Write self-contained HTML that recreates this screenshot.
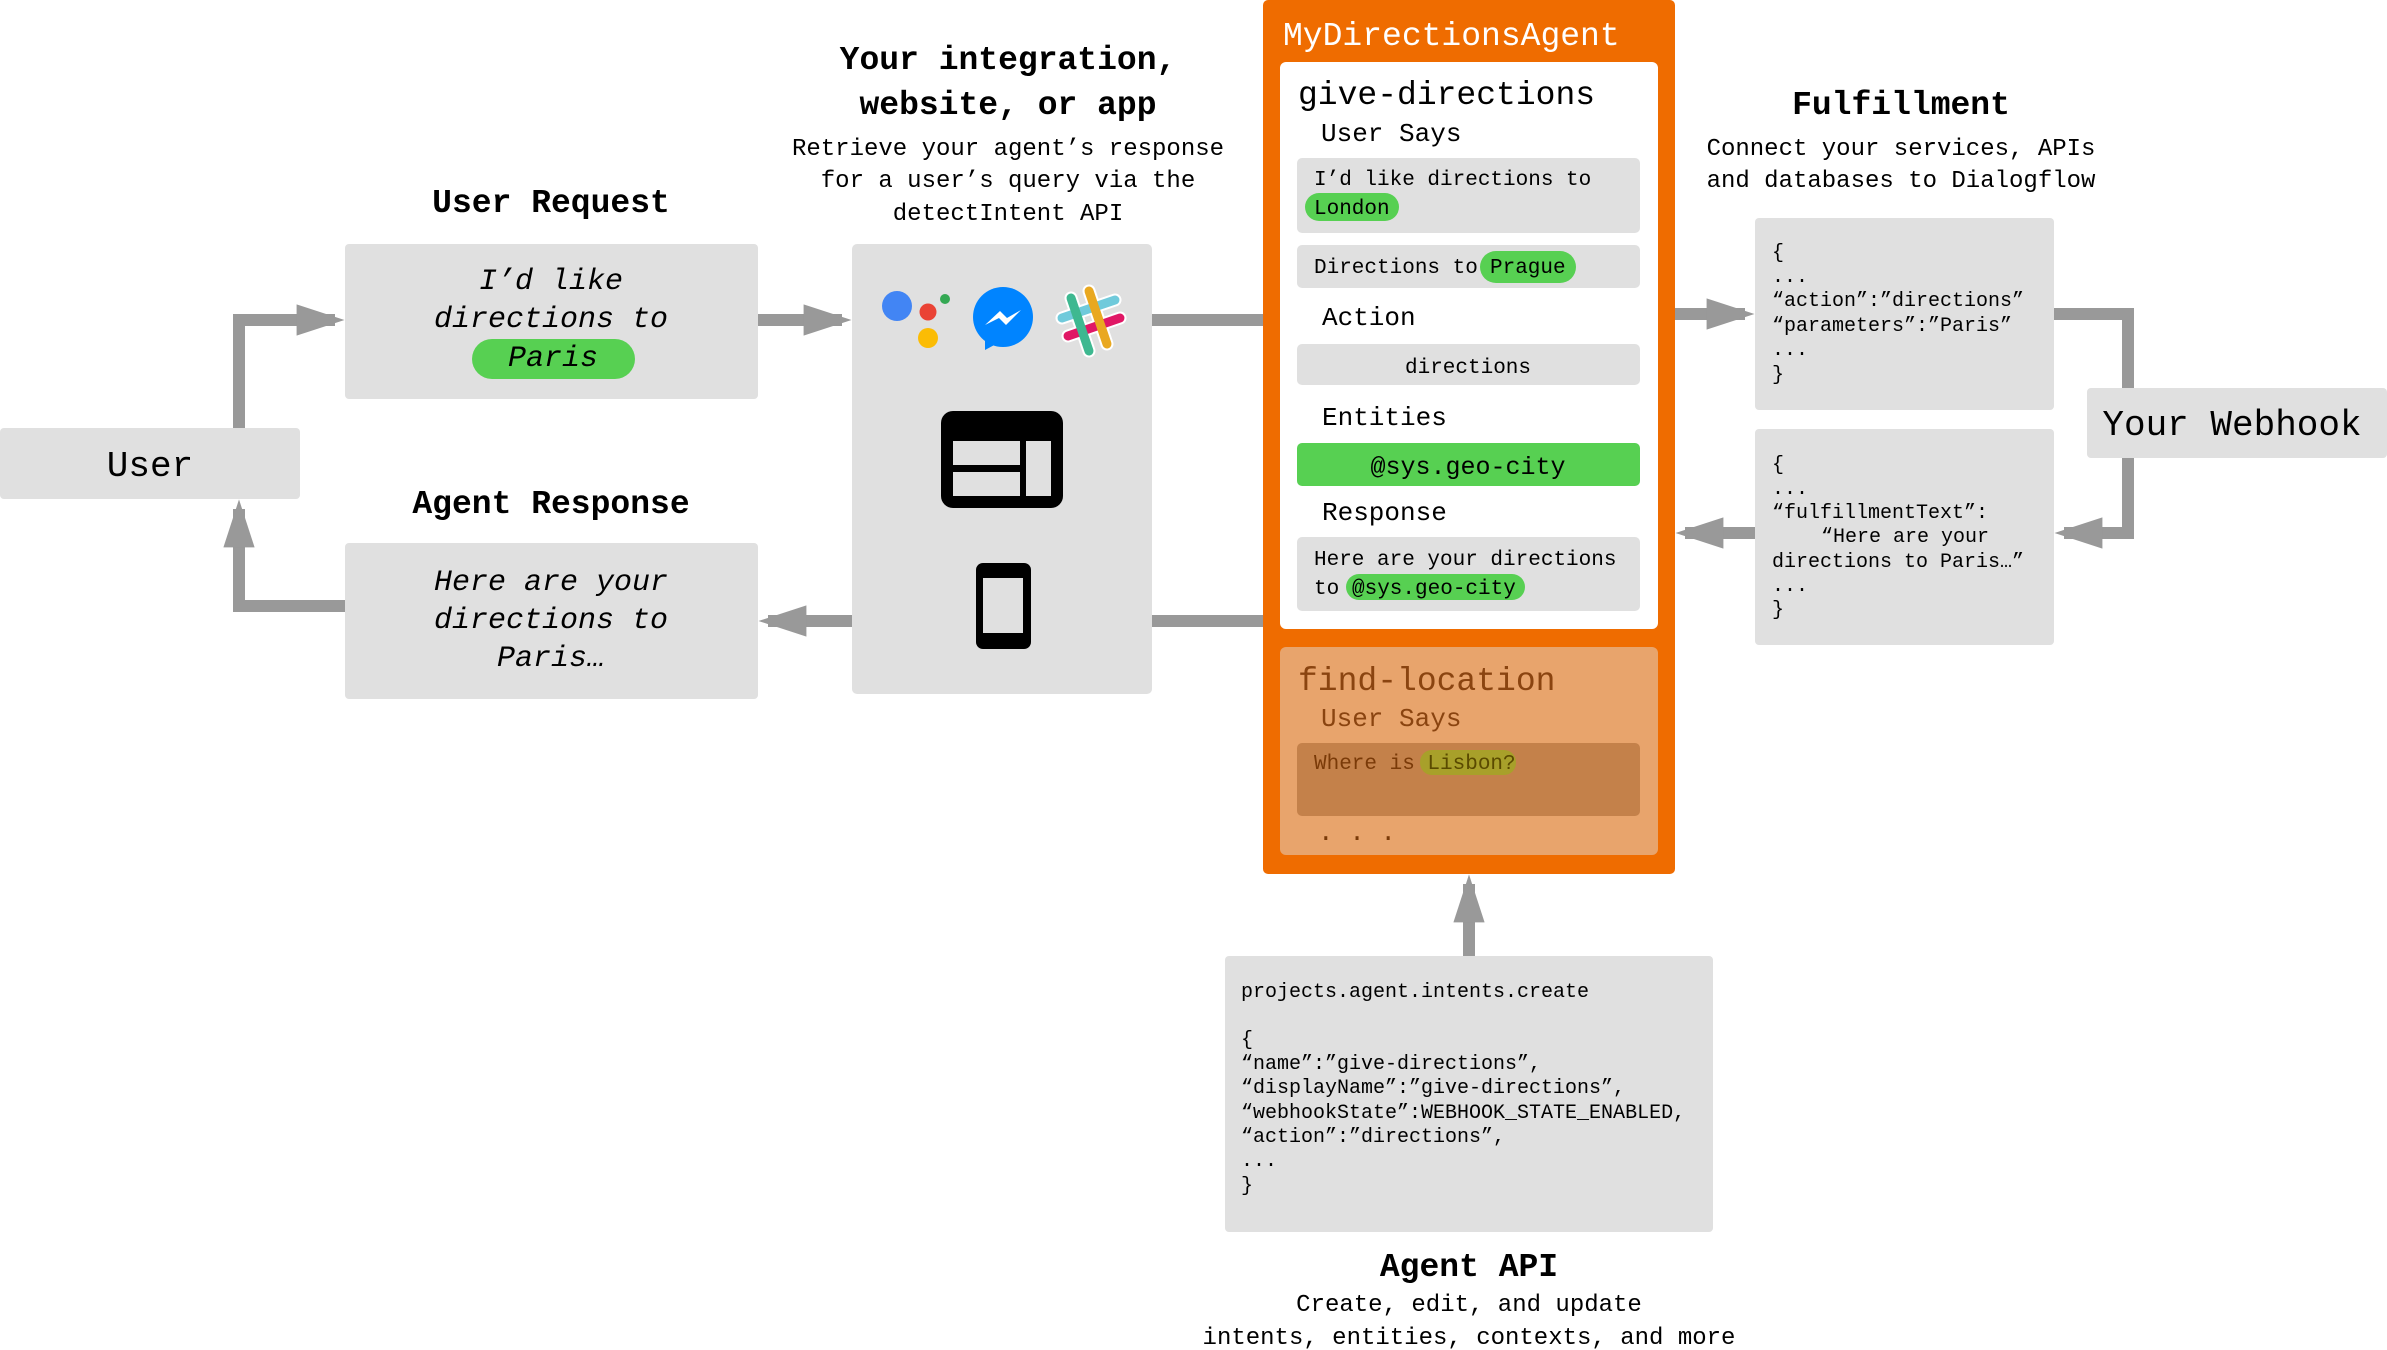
<!DOCTYPE html>
<html><head><meta charset="utf-8"><style>
html,body{margin:0;padding:0;background:#fff;}
svg{display:block;}
text{font-family:"Liberation Mono",monospace;}
</style></head><body>
<svg width="2387" height="1350" viewBox="0 0 2387 1350" xmlns="http://www.w3.org/2000/svg">
<defs>
<marker id="ah" markerWidth="4" markerHeight="4" refX="3.2" refY="2" orient="auto" markerUnits="strokeWidth"><path d="M0,0.7 L4,2 L0,3.3 Z" fill="#999"/></marker>
</defs>
<g fill="none" stroke="#999" stroke-width="12">
<polyline points="239,428 239,320 335,320" marker-end="url(#ah)"/>
<polyline points="758,320 842,320" marker-end="url(#ah)"/>
<line x1="1152" y1="320" x2="1263" y2="320"/>
<line x1="1152" y1="621" x2="1263" y2="621"/>
<polyline points="852,621 768,621" marker-end="url(#ah)"/>
<polyline points="345,606 239,606 239,509" marker-end="url(#ah)"/>
<polyline points="1675,314 1745,314" marker-end="url(#ah)"/>
<polyline points="2054,314 2128,314 2128,388"/>
<polyline points="2128,458 2128,533 2064,533" marker-end="url(#ah)"/>
<polyline points="1755,533 1685,533" marker-end="url(#ah)"/>
<polyline points="1469,956 1469,884" marker-end="url(#ah)"/>
</g>
<rect x="0" y="428" width="300" height="71" rx="4" fill="#e0e0e0"/>
<text x="150" y="476" font-size="36" text-anchor="middle" fill="#000">User</text>
<text x="551" y="212" font-size="33" font-weight="bold" text-anchor="middle">User Request</text>
<rect x="345" y="244" width="413" height="155" rx="4" fill="#e0e0e0"/>
<g font-size="30" font-style="italic" text-anchor="middle">
<text x="551" y="289">I’d like</text>
<text x="551" y="327">directions to</text>
</g>
<rect x="472" y="339" width="163" height="40" rx="20" fill="#57d052"/>
<text x="553" y="366" font-size="30" font-style="italic" text-anchor="middle">Paris</text>
<text x="551" y="513" font-size="33" font-weight="bold" text-anchor="middle">Agent Response</text>
<rect x="345" y="543" width="413" height="156" rx="4" fill="#e0e0e0"/>
<g font-size="30" font-style="italic" text-anchor="middle">
<text x="551" y="590">Here are your</text>
<text x="551" y="628">directions to</text>
<text x="551" y="666">Paris…</text>
</g>
<g text-anchor="middle">
<text x="1008" y="69" font-size="33" font-weight="bold">Your integration,</text>
<text x="1008" y="114" font-size="33" font-weight="bold">website, or app</text>
<text x="1008" y="155" font-size="24">Retrieve your agent’s response</text>
<text x="1008" y="187" font-size="24">for a user’s query via the</text>
<text x="1008" y="220" font-size="24">detectIntent API</text>
</g>
<rect x="852" y="244" width="300" height="450" rx="5" fill="#e0e0e0"/>
<circle cx="897" cy="306" r="15" fill="#4285f4"/>
<circle cx="928" cy="312" r="8.5" fill="#ea4335"/>
<circle cx="928" cy="338" r="10" fill="#fbbc05"/>
<circle cx="945" cy="299" r="5" fill="#34a853"/>
<circle cx="1003" cy="317" r="30" fill="#0084ff"/>
<path d="M985,340 L985,350 L998,343 Z" fill="#0084ff"/>
<path d="M985,325 L1000,311 L1007,318 L1021,310 L1006,325 L999,318 Z" fill="#fff"/>
<g stroke-linecap="round" stroke-width="13" stroke="#fff">
<line x1="1062" y1="318" x2="1115" y2="300"/><line x1="1068" y1="336" x2="1120" y2="318"/>
<line x1="1071" y1="298" x2="1089" y2="351"/><line x1="1089" y1="291" x2="1107" y2="344"/>
</g>
<g stroke-linecap="round" stroke-width="9">
<line x1="1062" y1="318" x2="1115" y2="300" stroke="#70cadb"/>
<line x1="1068" y1="336" x2="1120" y2="318" stroke="#e01765"/>
<line x1="1071" y1="298" x2="1089" y2="351" stroke="#3eb890"/>
<line x1="1089" y1="291" x2="1107" y2="344" stroke="#e9a820"/>
</g>
<rect x="941" y="411" width="122" height="97" rx="12" fill="#000"/>
<rect x="953" y="441" width="67" height="24" fill="#e0e0e0"/>
<rect x="953" y="472" width="67" height="24" fill="#e0e0e0"/>
<rect x="1026" y="441" width="25" height="55" fill="#e0e0e0"/>
<rect x="976" y="563" width="55" height="86" rx="7" fill="#000"/>
<rect x="983" y="578" width="40" height="55" fill="#e0e0e0"/>
<rect x="1263" y="0" width="412" height="874" rx="5" fill="#ef6c00"/>
<text x="1283" y="45" font-size="33" fill="#fff">MyDirectionsAgent</text>
<rect x="1280" y="62" width="378" height="567" rx="6" fill="#fff"/>
<text x="1298" y="104" font-size="33">give-directions</text>
<text x="1321" y="141" font-size="26">User Says</text>
<rect x="1297" y="158" width="343" height="75" rx="5" fill="#e0e0e0"/>
<text x="1314" y="185" font-size="21">I’d like directions to</text>
<rect x="1305" y="193" width="94" height="28" rx="14" fill="#57d052"/>
<text x="1314" y="214" font-size="21">London</text>
<rect x="1297" y="245" width="343" height="43" rx="5" fill="#e0e0e0"/>
<text x="1314" y="273" font-size="21">Directions to</text>
<rect x="1480" y="251" width="96" height="32" rx="16" fill="#57d052"/>
<text x="1490" y="273" font-size="21">Prague</text>
<text x="1322" y="325" font-size="26">Action</text>
<rect x="1297" y="344" width="343" height="41" rx="5" fill="#e0e0e0"/>
<text x="1468" y="373" font-size="21" text-anchor="middle">directions</text>
<text x="1322" y="425" font-size="26">Entities</text>
<rect x="1297" y="443" width="343" height="43" rx="5" fill="#57d052"/>
<text x="1468" y="474" font-size="25" text-anchor="middle">@sys.geo-city</text>
<text x="1322" y="520" font-size="26">Response</text>
<rect x="1297" y="537" width="343" height="74" rx="5" fill="#e0e0e0"/>
<text x="1314" y="565" font-size="21">Here are your directions</text>
<rect x="1346" y="574" width="179" height="26" rx="13" fill="#57d052"/>
<text x="1314" y="594" font-size="21">to <tspan x="1352">@sys.geo-city</tspan></text>
<rect x="1280" y="647" width="378" height="208" rx="6" fill="#e8a46c"/>
<text x="1298" y="690" font-size="33" fill="#8a4410">find-location</text>
<text x="1321" y="726" font-size="26" fill="#8a4410">User Says</text>
<rect x="1297" y="743" width="343" height="73" rx="5" fill="#c4814a"/>
<rect x="1420" y="750" width="96" height="25" rx="12" fill="#a8a02a"/>
<text x="1314" y="769" font-size="21" fill="#7a3a08">Where is <tspan fill="#5a4a00">Lisbon?</tspan></text>
<text x="1318" y="840" font-size="26" fill="#7a3a08">. . .</text>
<g text-anchor="middle">
<text x="1901" y="114" font-size="33" font-weight="bold">Fulfillment</text>
<text x="1901" y="155" font-size="24">Connect your services, APIs</text>
<text x="1901" y="187" font-size="24">and databases to Dialogflow</text>
</g>
<rect x="1755" y="218" width="299" height="192" rx="4" fill="#e0e0e0"/>
<g font-size="20">
<text x="1772" y="258">{</text>
<text x="1772" y="282">...</text>
<text x="1772" y="306">“action”:”directions”</text>
<text x="1772" y="331">“parameters”:”Paris”</text>
<text x="1772" y="355">...</text>
<text x="1772" y="380">}</text>
</g>
<rect x="1755" y="429" width="299" height="216" rx="4" fill="#e0e0e0"/>
<g font-size="20">
<text x="1772" y="470">{</text>
<text x="1772" y="494">...</text>
<text x="1772" y="518">“fulfillmentText”:</text>
<text x="1821" y="542">“Here are your</text>
<text x="1772" y="567">directions to Paris…”</text>
<text x="1772" y="591">...</text>
<text x="1772" y="615">}</text>
</g>
<rect x="2087" y="388" width="300" height="70" rx="4" fill="#e0e0e0"/>
<text x="2232" y="435" font-size="36" text-anchor="middle">Your Webhook</text>
<rect x="1225" y="956" width="488" height="276" rx="4" fill="#e0e0e0"/>
<g font-size="20">
<text x="1241" y="997">projects.agent.intents.create</text>
<text x="1241" y="1045">{</text>
<text x="1241" y="1069">“name”:”give-directions”,</text>
<text x="1241" y="1093">“displayName”:”give-directions”,</text>
<text x="1241" y="1118">“webhookState”:WEBHOOK_STATE_ENABLED,</text>
<text x="1241" y="1142">“action”:”directions”,</text>
<text x="1241" y="1166">...</text>
<text x="1241" y="1191">}</text>
</g>
<g text-anchor="middle">
<text x="1469" y="1276" font-size="33" font-weight="bold">Agent API</text>
<text x="1469" y="1311" font-size="24">Create, edit, and update</text>
<text x="1469" y="1344" font-size="24">intents, entities, contexts, and more</text>
</g>
</svg>
</body></html>
